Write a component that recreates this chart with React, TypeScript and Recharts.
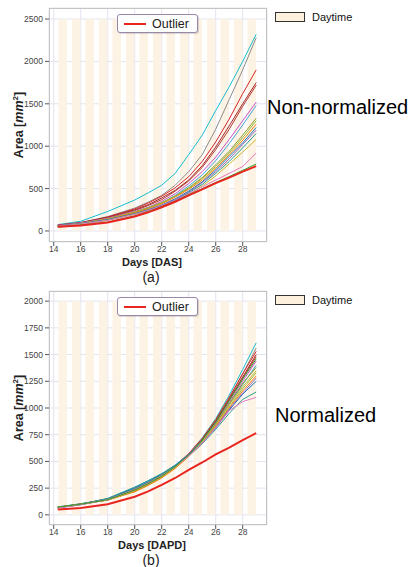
// Plant area growth curves — non-normalized (a) vs normalized (b), with daytime bands.
import { LineChart, Line, XAxis, YAxis, CartesianGrid, ReferenceArea } from "recharts";

const DAYS = [14.3, 16, 18, 20, 21, 22, 23, 24, 25, 26, 27, 28, 29];
const X_TICKS = [14, 16, 18, 20, 22, 24, 26, 28];
const DAY_STARTS = [14, 15, 16, 17, 18, 19, 20, 21, 22, 23, 24, 25, 26, 27, 28];
const Y_TICKS_A = [0, 500, 1000, 1500, 2000, 2500];
const Y_TICKS_B = [0, 250, 500, 750, 1000, 1250, 1500, 1750, 2000];

const COLORS = [
  "#17becf", "#8c8c8c", "#d62728", "#a6242a", "#b03a2e", "#c94fc9", "#3fa7d6", "#8a9a2a",
  "#9bbb3a", "#ff7f0e", "#1f77b4", "#9467bd", "#2a9d8f", "#c8b830", "#e377c2", "#2ca02c",
];
const OUTLIER_COLOR = "#e8251f";

// (a) non-normalized, read at DAYS
const A_01 = [75, 115, 230, 365, 450, 540, 680, 900, 1130, 1420, 1700, 2000, 2320];
const A_02 = [70, 100, 170, 270, 340, 420, 540, 700, 900, 1200, 1550, 1900, 2280];
const A_03 = [65, 95, 165, 260, 330, 410, 510, 640, 820, 1050, 1320, 1620, 1900];
const A_04 = [70, 100, 160, 250, 310, 390, 480, 600, 770, 990, 1240, 1500, 1750];
const A_05 = [60, 90, 150, 240, 300, 370, 470, 590, 750, 960, 1200, 1470, 1720];
const A_06 = [65, 95, 150, 230, 280, 350, 440, 560, 700, 870, 1080, 1300, 1520];
const A_07 = [60, 90, 140, 220, 270, 330, 420, 530, 660, 830, 1030, 1250, 1480];
const A_08 = [60, 85, 140, 220, 270, 330, 410, 510, 630, 780, 940, 1130, 1330];
const A_09 = [60, 90, 145, 225, 275, 335, 410, 500, 620, 760, 920, 1100, 1300];
const A_10 = [55, 85, 140, 215, 260, 320, 400, 490, 600, 740, 900, 1070, 1260];
const A_11 = [60, 85, 135, 205, 250, 305, 380, 470, 580, 720, 880, 1040, 1220];
const A_12 = [60, 85, 130, 200, 245, 300, 370, 460, 570, 700, 850, 1020, 1190];
const A_13 = [55, 80, 130, 200, 240, 290, 360, 450, 550, 680, 820, 980, 1150];
const A_14 = [55, 80, 125, 195, 235, 285, 350, 430, 530, 650, 790, 930, 1080];
const A_15 = [55, 80, 125, 195, 240, 295, 360, 440, 520, 600, 680, 760, 920];
const A_16 = [45, 70, 105, 178, 228, 288, 352, 428, 498, 572, 642, 715, 790];

// (b) normalized
const B_01 = [75, 105, 145, 230, 290, 360, 450, 570, 720, 900, 1120, 1360, 1610];
const B_02 = [70, 100, 140, 225, 285, 355, 445, 560, 700, 880, 1090, 1320, 1560];
const B_03 = [72, 102, 150, 240, 300, 370, 460, 575, 715, 890, 1100, 1320, 1530];
const B_04 = [70, 100, 145, 235, 295, 365, 455, 565, 705, 875, 1080, 1290, 1500];
const B_05 = [68, 98, 140, 225, 285, 355, 445, 555, 695, 865, 1070, 1280, 1480];
const B_06 = [70, 100, 150, 245, 305, 375, 460, 570, 700, 860, 1050, 1250, 1440];
const B_07 = [65, 95, 150, 255, 320, 385, 465, 565, 690, 845, 1030, 1220, 1400];
const B_08 = [70, 100, 140, 220, 280, 350, 440, 550, 685, 850, 1040, 1230, 1380];
const B_09 = [68, 96, 145, 240, 300, 370, 455, 555, 680, 835, 1010, 1180, 1330];
const B_10 = [72, 100, 138, 215, 275, 345, 435, 545, 675, 830, 1000, 1160, 1300];
const B_11 = [70, 98, 150, 250, 310, 380, 465, 560, 675, 815, 980, 1130, 1250];
const B_12 = [66, 95, 140, 230, 290, 360, 450, 550, 670, 820, 990, 1140, 1280];
const B_13 = [68, 98, 155, 260, 320, 385, 460, 550, 665, 800, 950, 1080, 1150];
const B_14 = [70, 98, 140, 225, 285, 355, 445, 550, 680, 840, 1030, 1200, 1350];
const B_15 = [65, 95, 145, 235, 295, 365, 450, 550, 670, 815, 975, 1060, 1100];
const B_16 = [72, 100, 142, 232, 292, 362, 452, 562, 700, 870, 1070, 1270, 1460];

const OUTLIER = [50, 65, 100, 170, 220, 280, 345, 420, 490, 565, 630, 700, 765];

const SERIES_A = [A_01, A_02, A_03, A_04, A_05, A_06, A_07, A_08, A_09, A_10, A_11, A_12, A_13, A_14, A_15, A_16];
const SERIES_B = [B_01, B_02, B_03, B_04, B_05, B_06, B_07, B_08, B_09, B_10, B_11, B_12, B_13, B_14, B_15, B_16];

const FONT = "'Liberation Sans', Arial, sans-serif";

const buildRows = (series: number[][]) =>
  DAYS.map((d, i) => {
    const row: Record<string, number> = { day: d, outlier: OUTLIER[i] };
    series.forEach((s, k) => (row[`p${k}`] = s[i]));
    return row;
  });

interface PanelProps {
  top: number;
  series: number[][];
  yDomain: [number, number];
  yTicks: number[];
  bandTop: number;
  xLabel: string;
  tag: string;
  sideText: string;
  sideLeft: number;
  sideTop: number;
}

function Panel({ top, series, yDomain, yTicks, bandTop, xLabel, tag, sideText, sideLeft, sideTop }: PanelProps) {
  const rows = buildRows(series);
  // plot frame: x 49..267, y top+8 .. top+242
  const frameTop = top + 8;
  const frameH = 234;
  return (
    <>
      <div style={{ position: "absolute", left: 0, top }}>
        <LineChart width={275} height={260} data={rows} margin={{ top: 8, right: 8, bottom: 0, left: 0 }}>
          <CartesianGrid stroke="#e3e3f0" strokeWidth={1} />
          {DAY_STARTS.map((d) => (
            <ReferenceArea
              key={d}
              x1={d + 0.35}
              x2={d + 0.98}
              y1={0}
              y2={bandTop}
              fill="#fdf3e4"
              fillOpacity={1}
              stroke="none"
            />
          ))}
          <XAxis
            dataKey="day"
            type="number"
            domain={[13.65, 29.8]}
            ticks={X_TICKS}
            allowDataOverflow
            height={18}
            axisLine={false}
            tickSize={4}
            tickMargin={0}
            tickLine={{ stroke: "#555" }}
            tick={{ fontSize: 8.5, fill: "#444", fontFamily: FONT }}
          />
          <YAxis
            type="number"
            domain={yDomain}
            ticks={yTicks}
            allowDataOverflow
            width={49}
            axisLine={false}
            tickSize={4}
            tickMargin={2}
            tickLine={{ stroke: "#555" }}
            tick={{ fontSize: 8.5, fill: "#444", fontFamily: FONT }}
          />
          {series.map((_, k) => (
            <Line
              key={k}
              dataKey={`p${k}`}
              stroke={COLORS[k]}
              strokeWidth={1}
              dot={false}
              isAnimationActive={false}
            />
          ))}
          <Line dataKey="outlier" stroke={OUTLIER_COLOR} strokeWidth={2} dot={false} isAnimationActive={false} />
        </LineChart>
      </div>
      {/* plot frame */}
      <div
        style={{
          position: "absolute", left: 49, top: frameTop, width: 218, height: frameH,
          border: "1px solid #c4c4c4", boxSizing: "border-box", pointerEvents: "none",
        }}
      />
      {/* outlier legend */}
      <div
        style={{
          position: "absolute", left: 117, top: top + 14, width: 81, height: 19, boxSizing: "border-box",
          border: "1px solid #9a88aa", borderRadius: 3, background: "#fff", boxShadow: "1px 1px 1px rgba(0,0,0,0.15)",
          display: "flex", alignItems: "center", fontFamily: FONT, fontSize: 12.5, color: "#222",
        }}
      >
        <div style={{ width: 22, height: 2, background: OUTLIER_COLOR, marginLeft: 6, marginRight: 6 }} />
        Outlier
      </div>
      {/* daytime legend */}
      <div style={{ position: "absolute", left: 275, top: top + 12, width: 30, height: 10, background: "#fdf0dc", border: "1px solid #333", boxSizing: "border-box" }} />
      <div style={{ position: "absolute", left: 312, top: top + 10, fontFamily: FONT, fontSize: 11, color: "#111", lineHeight: "14px" }}>
        Daytime
      </div>
      {/* y label */}
      <div
        style={{
          position: "absolute", left: 19, top: frameTop + frameH / 2, transform: "translate(-50%, -50%) rotate(-90deg)",
          fontFamily: FONT, fontSize: 12.5, fontWeight: 700, whiteSpace: "nowrap", color: "#222", lineHeight: "14px",
        }}
      >
        Area [<i>mm</i><sup style={{ fontSize: 8, lineHeight: 0 }}>2</sup>]
      </div>
      {/* x label */}
      <div
        style={{
          position: "absolute", left: 152, top: top + 262, transform: "translate(-50%, -50%)",
          fontFamily: FONT, fontSize: 11, fontWeight: 700, whiteSpace: "nowrap", color: "#222",
        }}
      >
        {xLabel}
      </div>
      <div
        style={{
          position: "absolute", left: 151, top: top + 277, transform: "translate(-50%, -50%)",
          fontFamily: FONT, fontSize: 14, whiteSpace: "nowrap", color: "#222",
        }}
      >
        {tag}
      </div>
      <div
        style={{
          position: "absolute", left: sideLeft, top: sideTop, transform: "translateY(-50%)",
          fontFamily: FONT, fontSize: 20, whiteSpace: "nowrap", color: "#000",
        }}
      >
        {sideText}
      </div>
    </>
  );
}

export default function App() {
  return (
    <div style={{ position: "absolute", left: 0, top: 0, width: 409, height: 567, background: "#fff", overflow: "hidden" }}>
      <Panel
        top={0}
        series={SERIES_A}
        yDomain={[-130, 2630]}
        yTicks={Y_TICKS_A}
        bandTop={2500}
        xLabel="Days [DAS]"
        tag="(a)"
        sideText="Non-normalized"
        sideLeft={267}
        sideTop={107}
      />
      <Panel
        top={283}
        series={SERIES_B}
        yDomain={[-95, 2095]}
        yTicks={Y_TICKS_B}
        bandTop={2000}
        xLabel="Days [DAPD]"
        tag="(b)"
        sideText="Normalized"
        sideLeft={275}
        sideTop={415}
      />
    </div>
  );
}
